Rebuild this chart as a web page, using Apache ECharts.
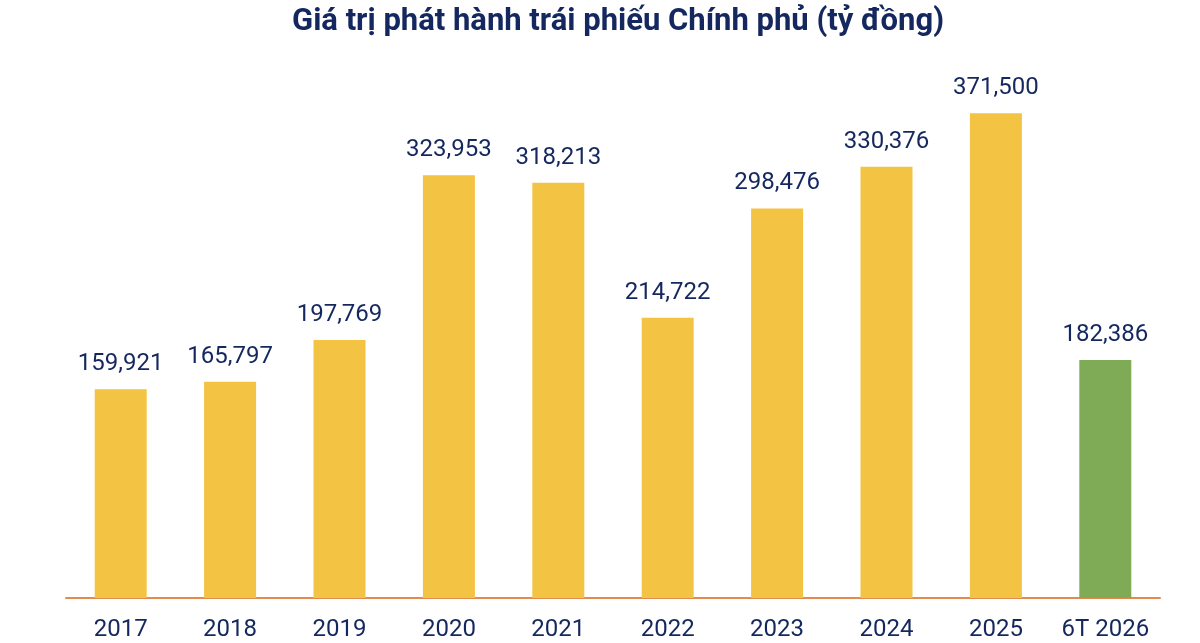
<!DOCTYPE html>
<html>
<head>
<meta charset="utf-8">
<script src="https://cdn.jsdelivr.net/npm/echarts@6/dist/echarts.min.js"></script>
<style>
  html, body { margin: 0; padding: 0; background: #fff; }
  #chart { width: 1200px; height: 643px; }
</style>
</head>
<body>
<div id="chart"></div>
<script>
const categories = ["2017", "2018", "2019", "2020", "2021", "2022", "2023", "2024", "2025", "6T 2026"];
const values = [159921, 165797, 197769, 323953, 318213, 214722, 298476, 330376, 371500, 182386];

const navy = "#14275e";

const chart = echarts.init(document.getElementById("chart"));
chart.setOption({
  animation: false,
  title: {
    text: "Giá trị phát hành trái phiếu Chính phủ (tỷ đồng)",
    left: 287,
    top: 2,
    textStyle: {
      fontFamily: "Roboto",
      fontWeight: "bold",
      fontSize: 31,
      color: navy
    }
  },
  grid: {
    left: 66,
    right: 40,
    top: 76,
    bottom: 45
  },
  xAxis: {
    type: "category",
    data: categories,
    axisLine: { lineStyle: { color: "#e38b4e", width: 2 } },
    axisTick: { show: false },
    axisLabel: {
      interval: 0,
      fontFamily: "Roboto",
      fontSize: 24,
      color: navy,
      margin: 20
    }
  },
  yAxis: {
    type: "value",
    min: 0,
    max: 400000,
    show: false
  },
  series: [{
    type: "bar",
    barWidth: 52,
    data: values.map((v, i) => ({
      value: v,
      itemStyle: { color: i === values.length - 1 ? "#7fab56" : "#f3c343" }
    })),
    label: {
      show: true,
      position: "top",
      distance: 13,
      fontFamily: "Roboto",
      fontSize: 24,
      color: navy,
      formatter: p => p.value.toLocaleString("en-US")
    }
  }]
});
</script>
</body>
</html>
